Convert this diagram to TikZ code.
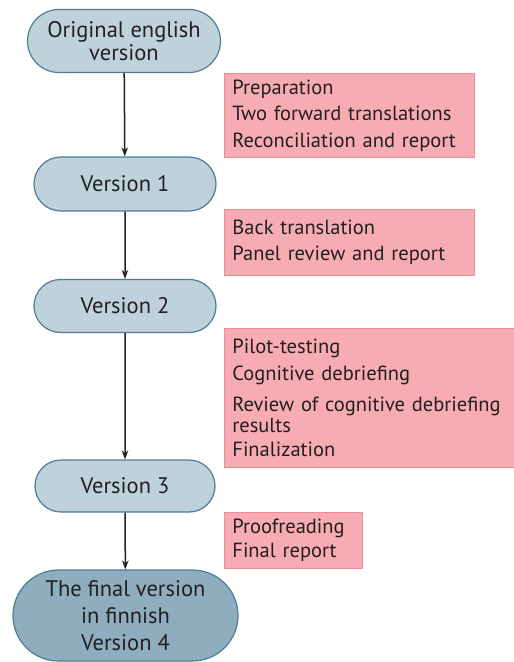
\documentclass[tikz,border=0pt]{standalone}
\usepackage{fontspec}
\setmainfont{PT Sans}
\usetikzlibrary{arrows.meta,shapes.misc}

\definecolor{pillfill}{HTML}{BFD2DC}
\definecolor{pilldraw}{HTML}{4D7D93}
\definecolor{finalfill}{HTML}{8EADBE}
\definecolor{stepfill}{HTML}{F7ABB3}
\definecolor{stepdraw}{HTML}{F28B98}
\definecolor{ink}{HTML}{231F20}

\begin{document}
\begin{tikzpicture}[
    x=1pt, y=-1pt,
    font=\fontsize{22.5}{23}\selectfont, text=ink,
    versione/.style={rounded rectangle,draw=pilldraw,fill=pillfill,line width=1.2pt,
                     inner sep=0pt,align=center},
    passi/.style={rectangle,draw=stepdraw,fill=stepfill,line width=0.8pt,anchor=north west,
                  inner xsep=8pt,inner ysep=0pt,align=left,
                  font=\fontsize{20.5}{20.5}\selectfont},
    freccia/.style={line width=1.5pt,draw=ink,-{Stealth[length=9pt,width=6.5pt]}}]

  \useasboundingbox (0,0) rectangle (514,662);

  %% ============================== versions =================================
  \node[versione,minimum width=193pt,minimum height=63pt] (orig) at (124,41)
    {Original english\\version};
  \node[versione,minimum width=182pt,minimum height=54pt] (v1) at (125,184) {Version 1};
  \node[versione,minimum width=182pt,minimum height=53pt] (v2) at (125,306) {Version 2};
  \node[versione,minimum width=180pt,minimum height=52pt] (v3) at (125,486) {Version 3};
  \node[versione,fill=finalfill,minimum width=225pt,minimum height=91pt,
        font=\fontsize{22.5}{27}\selectfont] (v4) at (125.5,615.5)
    {The final version\\in finnish\\Version 4};

  \foreach \a/\b in {orig/v1, v1/v2, v2/v3, v3/v4}
    \draw[freccia] (\a) -- (\b);

  %% =============================== steps ===================================
  \node[passi,text width=234pt,minimum height=84pt] (p1) at (224,73)
    {Preparation\\[6pt]Two forward translations\\[6pt]Reconciliation and report};
  \node[passi,text width=234pt,minimum height=66pt] (p2) at (224,209)
    {Back translation\\[6pt]Panel review and report};
  \node[passi,text width=276pt,minimum height=139pt] (p3) at (224,328)
    {Pilot-testing\\[6pt]Cognitive debriefing\\[11pt]Review of cognitive debriefing\\results\\[4pt]Finalization};
  \node[passi,text width=122pt,minimum height=56pt] (p4) at (224,512)
    {Proofreading\\[4pt]Final report};

\end{tikzpicture}
\end{document}
